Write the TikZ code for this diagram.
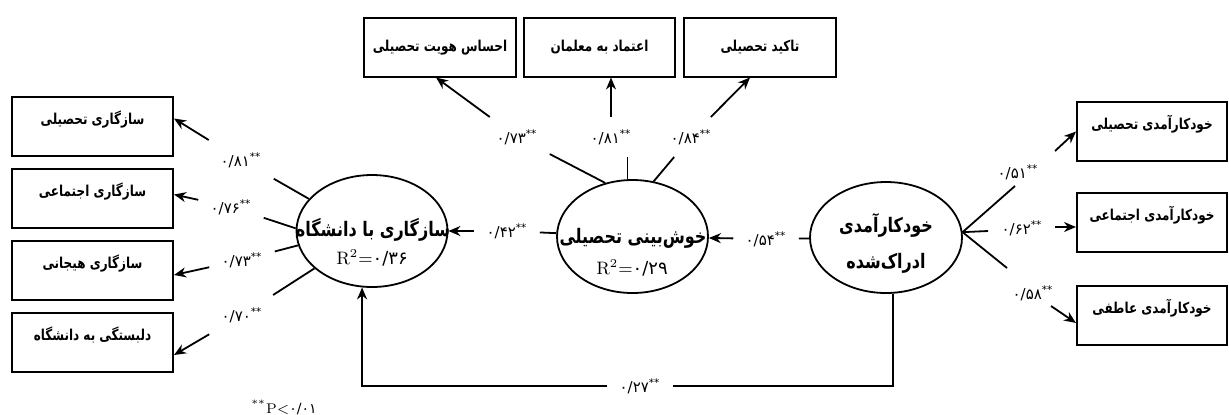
\documentclass[tikz,border=0pt]{standalone}
\usepackage{fontspec}
\usetikzlibrary{arrows.meta,shapes.geometric}
\TeXXeTstate=1
\newfontfamily\fa[Script=Arabic]{DejaVu Sans}
\newfontfamily\fan[Script=Arabic,FakeStretch=0.8]{DejaVu Sans}
\newcommand\RL[1]{{\beginR #1\endR}}
\newcommand\cf[1]{#1\textsuperscript{**}}
\tikzset{
 bx/.style={draw, line width=1pt, minimum height=29.5pt, inner sep=0pt, font=\fan\bfseries\fontsize{7.5}{9}\selectfont, text height=6pt, text depth=8pt},
 lat/.style={draw, ellipse, line width=0.9pt, inner sep=0pt},
 etx/.style={font=\fan\bfseries\fontsize{10}{12}\selectfont, inner sep=0pt},
 rtx/.style={font=\fontsize{9}{11}\selectfont, inner sep=0pt},
 coef/.style={font=\fa\fontsize{7.5}{8}\selectfont, inner sep=6pt},
 ln/.style={line width=0.9pt},
 arr/.style={line width=0.9pt, -{Stealth[length=6pt,width=5pt]}},
}
\begin{document}
\begin{tikzpicture}[x=0.5pt,y=-0.5pt]
\useasboundingbox (0,0) rectangle (1229,414);
% left boxes
\node[bx, minimum width=80.5pt] (B1) at (92.5,126.5) {\RL{سازگاری تحصیلی}};
\node[bx, minimum width=80.5pt] (B2) at (92.5,198.5) {\RL{سازگاری اجتماعی}};
\node[bx, minimum width=80.5pt] (B3) at (92.5,270) {\RL{سازگاری هیجانی}};
\node[bx, minimum width=80.5pt] (B4) at (92.5,342) {\RL{دلبستگی به دانشگاه}};
% top boxes
\node[bx, minimum width=76pt, text depth=2pt] (T1) at (440,47) {\RL{احساس هویت تحصیلی}};
\node[bx, minimum width=75.5pt, text depth=2pt] (T2) at (599.5,47) {\RL{اعتماد به معلمان}};
\node[bx, minimum width=76pt, text depth=2pt] (T3) at (760,47) {\RL{تاکید تحصیلی}};
% right boxes
\node[bx, minimum width=75pt] (RB1) at (1152,131.5) {\RL{خودکارآمدی تحصیلی}};
\node[bx, minimum width=75pt] (RB2) at (1152,222) {\RL{خودکارآمدی اجتماعی}};
\node[bx, minimum width=75pt] (RB3) at (1152,315) {\RL{خودکارآمدی عاطفی}};
% latent ellipses
\node[lat, minimum width=75.5pt, minimum height=56pt] (L) at (372,231) {};
\node[lat, minimum width=75.5pt, minimum height=56.5pt] (M) at (632.5,236.5) {};
\node[lat, minimum width=76pt, minimum height=55.5pt] (R) at (886,237.5) {};
\node[etx] (Lt) at (373,230) {\RL{سازگاری با دانشگاه}};
\node[rtx] (Lr) at (372,258) {R\textsuperscript{2}={\fa ۰/۳۶}};
\node[etx] (Mt) at (633,238) {\RL{خوش‌بینی تحصیلی}};
\node[rtx] (Mr) at (632,268) {R\textsuperscript{2}={\fa ۰/۲۹}};
\node[etx] (Rt1) at (886,225) {\RL{خودکارآمدی}};
\node[etx] (Rt2) at (886,263) {\RL{ادراک‌شده}};
% left loadings
\node[coef] (c1) at (241,160) {\cf{۰/۸۱}};
\draw[ln] (L.153) -- (c1); \draw[arr] (c1) -- ([yshift=4pt]B1.east);
\node[coef] (c2) at (231,207) {\cf{۰/۷۶}};
\draw[ln] (L.178) -- (c2); \draw[arr] (c2) -- ([yshift=2pt]B2.east);
\node[coef] (c3) at (242,260) {\cf{۰/۷۳}};
\draw[ln] (L.191) -- (c3); \draw[arr] (c3) -- ([yshift=-2.5pt]B3.east);
\node[coef] (c4) at (242,315) {\cf{۰/۷۰}};
\draw[ln] (L.213) -- (c4); \draw[arr] (c4) -- ([yshift=-6.5pt]B4.east);
% top loadings
\node[coef] (c5) at (517,137) {\cf{۰/۷۳}};
\draw[ln] (M.117) -- (c5); \draw[arr] (c5) -- ([xshift=-2pt]T1.south);
\node[coef] (c6) at (611,137) {\cf{۰/۸۱}};
\draw[ln] (M.95) -- (M.95 |- c6.south); \draw[arr] (c6.north) -- (c6.north |- T2.south);
\node[coef] (c7) at (691,137) {\cf{۰/۸۴}};
\draw[ln] (M.69) -- (c7); \draw[arr] (c7) -- ([xshift=-5pt]T3.south);
% structural paths
\node[coef] (c8) at (766,239) {\cf{۰/۵۴}};
\draw[ln] (R) -- (c8); \draw[arr] (c8) -- (M);
\node[coef] (c9) at (507,231) {\cf{۰/۴۲}};
\draw[ln] (M) -- (c9); \draw[arr] (c9) -- (L);
\node[coef] (c13) at (640,386) {\cf{۰/۲۷}};
\draw[ln] (R.-83) |- (c13); \draw[arr] (c13) -| (L.-100);
% right loadings
\coordinate (ra1) at (1015,186); \coordinate (rb1) at (1055,151);
\node[coef] (c10) at (1018,172) {\cf{۰/۵۱}};
\draw[ln] (R.4) -- (ra1); \draw[arr] (rb1) -- (RB1.west);
\coordinate (ra2) at (988,231); \coordinate (rb2) at (1055,227);
\node[coef] (c11) at (1022,228) {\cf{۰/۶۲}};
\draw[ln] (R.4) -- (ra2); \draw[arr] (rb2) -- ([yshift=-2.5pt]RB2.west);
\coordinate (ra3) at (1007,268); \coordinate (rb3) at (1051,306);
\node[coef] (c12) at (1033,293) {\cf{۰/۵۸}};
\draw[ln] (R.4) -- (ra3); \draw[arr] (rb3) -- ([yshift=-4pt]RB3.west);
% footnote
\node[font=\fontsize{7}{8}\selectfont, inner sep=0pt] (fn) at (284,407) {\textsuperscript{**}P<{\fa ۰/۰۱}};
\end{tikzpicture}
\end{document}
